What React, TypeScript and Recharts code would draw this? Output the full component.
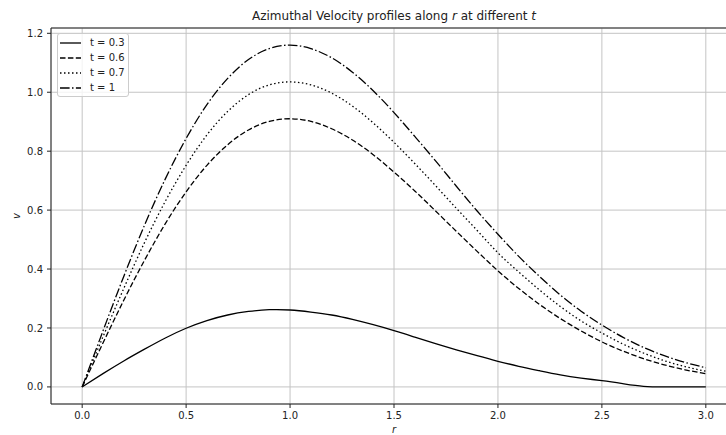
import React from "react";
import {
  LineChart,
  Line,
  XAxis,
  YAxis,
  CartesianGrid,
  Legend,
  ReferenceLine,
} from "recharts";

const rValues = [
  0, 0.1, 0.2, 0.3, 0.4, 0.5, 0.6, 0.7, 0.8, 0.9, 1.0, 1.1, 1.2, 1.3, 1.4, 1.5,
  1.6, 1.7, 1.8, 1.9, 2.0, 2.1, 2.2, 2.3, 2.4, 2.5, 2.6, 2.7, 2.8, 2.9, 3.0,
];

const vT03 = [
  0, 0.045, 0.088, 0.128, 0.166, 0.199, 0.225, 0.244, 0.256, 0.262, 0.261,
  0.254, 0.244, 0.229, 0.211, 0.191, 0.169, 0.147, 0.126, 0.106, 0.087, 0.07,
  0.055, 0.041, 0.03, 0.021, 0.011, 0.002, 0, 0, 0,
];

const vT06 = [
  0, 0.149, 0.294, 0.43, 0.554, 0.662, 0.752, 0.822, 0.872, 0.901, 0.91, 0.901,
  0.876, 0.838, 0.788, 0.729, 0.665, 0.597, 0.528, 0.46, 0.394, 0.334, 0.28,
  0.232, 0.19, 0.153, 0.122, 0.096, 0.075, 0.058, 0.045,
];

const vT07 = [
  0, 0.17, 0.334, 0.49, 0.63, 0.752, 0.855, 0.935, 0.992, 1.025, 1.035, 1.025,
  0.997, 0.953, 0.896, 0.83, 0.758, 0.683, 0.606, 0.531, 0.455, 0.39, 0.329,
  0.273, 0.224, 0.183, 0.146, 0.115, 0.089, 0.069, 0.053,
];

const vT10 = [
  0, 0.19, 0.375, 0.549, 0.706, 0.843, 0.958, 1.047, 1.111, 1.148, 1.16, 1.148,
  1.117, 1.068, 1.005, 0.931, 0.85, 0.767, 0.681, 0.597, 0.518, 0.443, 0.375,
  0.312, 0.257, 0.21, 0.169, 0.134, 0.106, 0.083, 0.065,
];

const seriesKeys = ["t03", "t06", "t07", "t10"];
const seriesNames = ["t = 0.3", "t = 0.6", "t = 0.7", "t = 1"];
const seriesDashes = ["", "5.5 2.4", "1.5 2.5", "9.6 2.4 1.5 2.4"];

const xTicks = [0, 0.5, 1.0, 1.5, 2.0, 2.5, 3.0];
const yTicks = [0, 0.2, 0.4, 0.6, 0.8, 1.0, 1.2];

const data = rValues.map((r, i) => ({
  r,
  t03: vT03[i],
  t06: vT06[i],
  t07: vT07[i],
  t10: vT10[i],
}));

const FONT = "'DejaVu Sans', sans-serif";
const LW = 1.3;

const LegendBox = () => (
  <div
    style={{
      position: "absolute",
      left: 57,
      top: 33,
      width: 72,
      height: 64,
      boxSizing: "border-box",
      border: "1px solid #cccccc",
      borderRadius: 3,
      background: "rgba(255,255,255,0.8)",
      padding: "1px 0 1px 2px",
      fontFamily: FONT,
      fontSize: 10,
      color: "#222",
    }}
  >
    {seriesNames.map((name, i) => (
      <div
        key={name}
        style={{ height: 15, display: "flex", alignItems: "center" }}
      >
        <svg width={21} height={4} style={{ display: "block" }}>
          <line
            x1={0}
            y1={2}
            x2={21}
            y2={2}
            stroke="#000"
            strokeWidth={LW}
            strokeDasharray={seriesDashes[i] || undefined}
          />
        </svg>
        <span style={{ marginLeft: 9, whiteSpace: "nowrap", lineHeight: "15px" }}>
          {name}
        </span>
      </div>
    ))}
  </div>
);

export default function App() {
  return (
    <div
      style={{
        position: "absolute",
        left: 0,
        top: 0,
        width: 726,
        height: 435,
        overflow: "hidden",
        background: "#fff",
        fontFamily: FONT,
      }}
    >
      <LineChart
        width={745}
        height={435}
        data={data}
        margin={{ top: 28, right: 8, bottom: 0, left: 0 }}
      >
        <CartesianGrid stroke="#c4c4c4" strokeWidth={1} />
        <XAxis
          dataKey="r"
          type="number"
          domain={[-0.15, 3.15]}
          ticks={xTicks}
          allowDataOverflow
          tickFormatter={(v: number) => v.toFixed(1)}
          tick={{ fontSize: 10, fill: "#222", fontFamily: FONT }}
          tickSize={4}
          tickMargin={4}
          height={31}
          stroke="#222"
          axisLine={{ stroke: "#222", strokeWidth: 1 }}
          tickLine={{ stroke: "#222" }}
        />
        <YAxis
          type="number"
          domain={[-0.058, 1.218]}
          ticks={yTicks}
          allowDataOverflow
          tickFormatter={(v: number) => v.toFixed(1)}
          tick={{ fontSize: 10, fill: "#222", fontFamily: FONT }}
          tickSize={4}
          tickMargin={4}
          width={51}
          stroke="#222"
          axisLine={{ stroke: "#222", strokeWidth: 1 }}
          tickLine={{ stroke: "#222" }}
        />
        <ReferenceLine y={1.218} stroke="#222" strokeWidth={1} />
        <ReferenceLine x={3.15} stroke="#222" strokeWidth={1} />
        {seriesKeys.map((k, i) => (
          <Line
            key={k}
            dataKey={k}
            name={seriesNames[i]}
            type="natural"
            stroke="#000"
            strokeWidth={LW}
            strokeDasharray={seriesDashes[i] || undefined}
            dot={false}
            activeDot={false}
            isAnimationActive={false}
          />
        ))}
        <Legend
          layout="vertical"
          align="center"
          verticalAlign="middle"
          wrapperStyle={{ position: "absolute", left: 0, top: 0, width: 0, height: 0 }}
          content={() => <LegendBox />}
        />
      </LineChart>
      <svg
        width={726}
        height={435}
        style={{ position: "absolute", left: 0, top: 0, pointerEvents: "none" }}
      >
        <text
          x={394}
          y={20}
          textAnchor="middle"
          fontSize={12}
          fill="#222"
          fontFamily={FONT}
        >
          Azimuthal Velocity profiles along <tspan fontStyle="italic">r</tspan> at
          different <tspan fontStyle="italic">t</tspan>
        </text>
        <text
          x={394}
          y={432.5}
          textAnchor="middle"
          fontSize={10}
          fontStyle="italic"
          fill="#222"
          fontFamily={FONT}
        >
          r
        </text>
        <text
          transform="translate(20,216) rotate(-90)"
          textAnchor="middle"
          fontSize={10}
          fontStyle="italic"
          fill="#222"
          fontFamily={FONT}
        >
          v
        </text>
      </svg>
    </div>
  );
}
